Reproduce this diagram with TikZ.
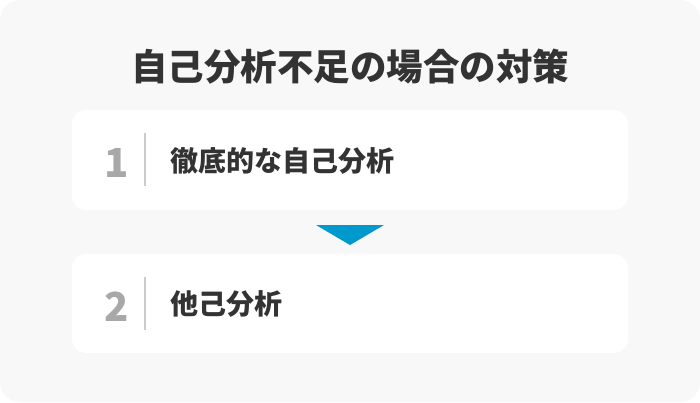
\documentclass[tikz,border=0pt]{standalone}
\usepackage{fontspec}
\setmainfont{Noto Sans CJK JP}
\usepackage{tikz}
\usetikzlibrary{positioning, calc}
\definecolor{colBg}{RGB}{248, 248, 248}
\definecolor{colText}{RGB}{51, 51, 51}
\definecolor{colNum}{RGB}{168, 168, 168}
\definecolor{colLine}{RGB}{204, 204, 204}
\definecolor{colArrow}{RGB}{0, 153, 204}

\begin{document}
\begin{tikzpicture}[x=1pt, y=-1pt, every node/.style={inner sep=0pt}]
    % --- Latar ---
    \fill[white] (0, 0) rectangle (700, 402);
    \fill[colBg, rounded corners=20pt] (0, 0) rectangle (700, 402);
    \useasboundingbox (0, 0) rectangle (700, 402);

    % --- Judul ---
    \node[font=\fontsize{36.5}{40}\selectfont\bfseries, text=colText] (judul) at (350, 67) {自己分析不足の場合の対策};

    % --- Kotak 1 ---
    \fill[white, rounded corners=14pt] (72, 110) rectangle (628, 210);
    \node[font=\fontsize{40}{44}\selectfont\bfseries, text=colNum] (num1) at (117, 163) {1};
    \draw[colLine, line width=1.5pt] (145, 133) -- (145, 186);
    \node[anchor=west, font=\fontsize{28}{31}\selectfont\bfseries, text=colText] (langkah1) at (170, 161) {徹底的な自己分析};

    % Panah segitiga
    \fill[colArrow] (316, 225) -- (384, 225) -- (350, 245) -- cycle;

    % --- Kotak 2 ---
    \fill[white, rounded corners=14pt] (72, 254) rectangle (628, 353);
    \node[font=\fontsize{40}{44}\selectfont\bfseries, text=colNum] (num2) at (117, 307) {2};
    \draw[colLine, line width=1.5pt] (145, 277) -- (145, 330);
    \node[anchor=west, font=\fontsize{28}{31}\selectfont\bfseries, text=colText] (langkah2) at (170, 304) {他己分析};

\end{tikzpicture}
\end{document}
